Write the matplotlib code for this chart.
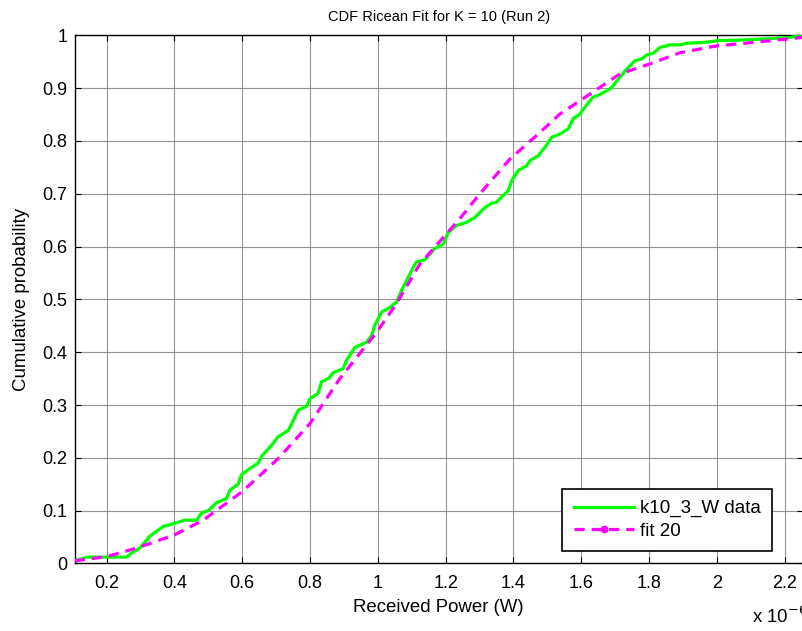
import matplotlib
matplotlib.use("Agg")
import matplotlib.pyplot as plt
from matplotlib.lines import Line2D

plt.rcParams['font.family'] = ['Liberation Sans', 'DejaVu Sans']

# Empirical CDF of received power (x in units of 1e-6 W)
data_power = [0.106, 0.141, 0.200, 0.259, 0.274, 0.298, 0.328, 0.367, 0.406, 0.431,
              0.466, 0.480, 0.500, 0.524, 0.554, 0.564, 0.588, 0.598, 0.623, 0.647,
              0.657, 0.687, 0.706, 0.736, 0.751, 0.765, 0.790, 0.800, 0.824, 0.834,
              0.854, 0.868, 0.898, 0.908, 0.932, 0.967, 0.982, 0.991, 1.011, 1.036,
              1.055, 1.070, 1.085, 1.100, 1.114, 1.139, 1.168, 1.193, 1.208, 1.232,
              1.262, 1.286, 1.316, 1.336, 1.350, 1.365, 1.385, 1.395, 1.414, 1.439,
              1.449, 1.473, 1.493, 1.513, 1.537, 1.562, 1.576, 1.596, 1.611, 1.635,
              1.655, 1.675, 1.690, 1.709, 1.734, 1.758, 1.778, 1.793, 1.812, 1.832,
              1.862, 1.891, 1.911, 1.970, 2.004, 2.068, 2.137, 2.216, 2.254]
data_cdf = [0.005, 0.012, 0.012, 0.012, 0.020, 0.029, 0.052, 0.070, 0.077, 0.082,
            0.082, 0.096, 0.100, 0.115, 0.123, 0.139, 0.150, 0.168, 0.180, 0.190,
            0.203, 0.224, 0.240, 0.252, 0.271, 0.290, 0.298, 0.312, 0.322, 0.344,
            0.350, 0.361, 0.369, 0.385, 0.409, 0.419, 0.432, 0.451, 0.476, 0.485,
            0.495, 0.517, 0.536, 0.555, 0.571, 0.575, 0.596, 0.605, 0.627, 0.640,
            0.646, 0.655, 0.674, 0.682, 0.684, 0.694, 0.706, 0.725, 0.744, 0.753,
            0.763, 0.772, 0.788, 0.807, 0.813, 0.823, 0.842, 0.851, 0.864, 0.883,
            0.888, 0.895, 0.901, 0.917, 0.936, 0.952, 0.955, 0.963, 0.966, 0.977,
            0.982, 0.982, 0.985, 0.987, 0.990, 0.991, 0.993, 0.996, 1.000]

# Fitted Ricean CDF
fit_power = [0.106, 0.200, 0.288, 0.400, 0.485, 0.600, 0.682, 0.711, 0.800, 0.888,
             0.977, 1.000, 1.055, 1.124, 1.198, 1.242, 1.301, 1.390, 1.478, 1.537,
             1.596, 1.640, 1.714, 1.803, 1.891, 1.999, 2.098, 2.176, 2.254]
fit_cdf = [0.005, 0.013, 0.029, 0.054, 0.082, 0.136, 0.184, 0.202, 0.265, 0.350,
           0.422, 0.441, 0.492, 0.567, 0.621, 0.653, 0.700, 0.766, 0.816, 0.851,
           0.876, 0.895, 0.927, 0.946, 0.967, 0.980, 0.986, 0.991, 0.996]

x_ticks = [0.2, 0.4, 0.6, 0.8, 1.0, 1.2, 1.4, 1.6, 1.8, 2.0, 2.2]
x_tick_labels = ['0.2', '0.4', '0.6', '0.8', '1', '1.2', '1.4', '1.6', '1.8', '2', '2.2']
y_ticks = [0, 0.1, 0.2, 0.3, 0.4, 0.5, 0.6, 0.7, 0.8, 0.9, 1.0]
y_tick_labels = ['0', '0.1', '0.2', '0.3', '0.4', '0.5', '0.6', '0.7', '0.8', '0.9', '1']

fig = plt.figure(figsize=(8.03, 6.31), dpi=100)
ax = fig.add_axes([0.0928, 0.107, 0.9072, 0.837])

green = '#00ff00'
magenta = '#ff00ff'
dash = (0, (3.2, 2.2))

ax.plot(data_power, data_cdf, color=green, lw=2.3, zorder=3)
ax.plot(fit_power, fit_cdf, color=magenta, lw=2.3, ls=dash, zorder=4)

ax.set_xlim(0.1055, 2.254)
ax.set_ylim(0, 1)
ax.set_xticks(x_ticks)
ax.set_xticklabels(x_tick_labels)
ax.set_yticks(y_ticks)
ax.set_yticklabels(y_tick_labels)

ax.grid(True, color='#808080', lw=0.8, alpha=0.85)
ax.set_axisbelow(True)
ax.tick_params(direction='in', length=4, width=0.8, top=True, right=True,
               labelsize=13)
ax.tick_params(axis='x', pad=8.6)
ax.tick_params(axis='y', pad=5)
for s in ax.spines.values():
    s.set_linewidth(1.0)

ax.set_title('CDF Ricean Fit for K = 10 (Run 2)', fontsize=10.5, pad=10)
ax.set_xlabel('Received Power (W)', fontsize=13.4, labelpad=5)
ax.set_ylabel('Cumulative probability', fontsize=13.4, labelpad=9)

fig.text(0.936, 0.0127, r'x 10$^{-6}$', fontsize=13.4, ha='left', va='baseline')

handles = [
    Line2D([], [], color=green, lw=2.3),
    Line2D([], [], color=magenta, lw=2.3, ls=dash, marker='o', ms=4.5),
]
leg = ax.legend(handles, ['k10_3_W data', 'fit 20'], loc='lower right',
                bbox_to_anchor=(0.957, 0.0237), borderaxespad=0, fontsize=13.5,
                handlelength=3.2, handletextpad=0.32, fancybox=False, framealpha=1,
                edgecolor='black', borderpad=0.6, labelspacing=0.28)
leg.get_frame().set_linewidth(1.2)

fig.savefig('out.png', dpi=100)
